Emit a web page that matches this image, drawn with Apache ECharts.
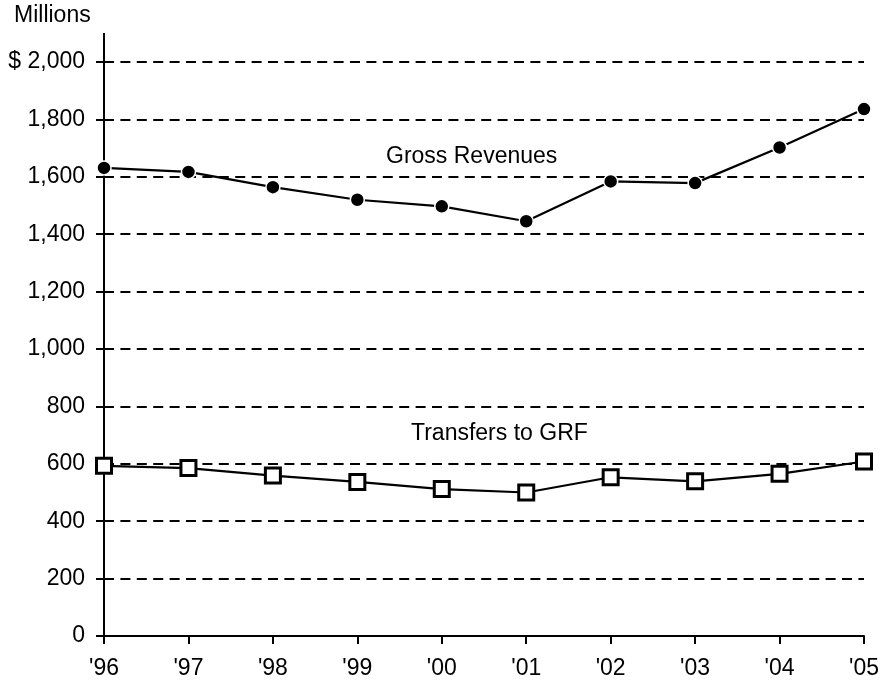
<!DOCTYPE html>
<html>
<head>
<meta charset="utf-8">
<script src="https://cdn.jsdelivr.net/npm/echarts@6/dist/echarts.min.js"></script>
<style>
  html, body { margin: 0; padding: 0; background: #fff; }
  #chart { width: 890px; height: 686px; }
</style>
</head>
<body>
<div id="chart"></div>
<script>
// Fiscal years shown along the bottom
const years = ["'96", "'97", "'98", "'99", "'00", "'01", "'02", "'03", "'04", "'05"];
// Gross revenues, $ millions
const grossRevenues = [1631, 1617, 1564, 1520, 1497, 1445, 1584, 1578, 1702, 1836];
// Transfers to the General Revenue Fund, $ millions
const transfersToGRF = [593, 585, 559, 537, 512, 500, 553, 539, 565, 608];
// Value axis ticks
const yTicks = [0, 200, 400, 600, 800, 1000, 1200, 1400, 1600, 1800, 2000];

const FONT = 'Liberation Sans, Arial, Helvetica, sans-serif';
const FS = 23;
const chart = echarts.init(document.getElementById('chart'));

const fmt = v => {
  const s = v.toLocaleString('en-US');
  return v === yTicks[yTicks.length - 1] ? '$ ' + s : s;
};

chart.setOption({
  animation: false,
  backgroundColor: '#fff',
  grid: { left: 104, right: 26, top: 62, bottom: 50, containLabel: false },
  xAxis: {
    type: 'category',
    data: years,
    boundaryGap: false,
    axisLine: { lineStyle: { color: '#000', width: 2 } },
    axisTick: { show: true, length: 8, alignWithLabel: true, lineStyle: { color: '#000', width: 2 } },
    axisLabel: { color: '#000', fontFamily: FONT, fontSize: FS, margin: 21 },
    splitLine: { show: false }
  },
  yAxis: {
    type: 'value',
    min: yTicks[0],
    max: yTicks[yTicks.length - 1],
    interval: 200,
    axisLine: { show: true, lineStyle: { color: '#000', width: 2 } },
    axisTick: { show: true, length: 8, lineStyle: { color: '#000', width: 2 } },
    axisLabel: { color: '#000', fontFamily: FONT, fontSize: FS, margin: 19, formatter: fmt },
    splitLine: { show: true, lineStyle: { color: '#000', width: 2, type: [10, 6.4] } }
  },
  series: [
    {
      name: 'Gross Revenues',
      type: 'line',
      data: grossRevenues,
      symbol: 'circle',
      symbolSize: 14,
      lineStyle: { color: '#000', width: 2.2 },
      itemStyle: { color: '#000', borderColor: '#fff', borderWidth: 1.5 },
      z: 3
    },
    {
      name: 'Transfers to GRF',
      type: 'line',
      data: transfersToGRF,
      symbol: 'rect',
      symbolSize: 15,
      lineStyle: { color: '#000', width: 2.2 },
      itemStyle: { color: '#fff', borderColor: '#000', borderWidth: 3 },
      z: 3
    }
  ]
});

// Axis extension above the top tick, unit caption and series captions
const axisTopY = chart.convertToPixel({ yAxisIndex: 0 }, yTicks[yTicks.length - 1]);
const axisX = chart.convertToPixel({ xAxisIndex: 0 }, 0);
const caption = (x, y, text) => ({
  type: 'text', x: x, y: y,
  style: { text: text, font: FS + 'px ' + FONT, fill: '#000', textVerticalAlign: 'middle' }
});
chart.setOption({
  graphic: [
    { type: 'line', shape: { x1: axisX, y1: axisTopY, x2: axisX, y2: axisTopY - 29 }, style: { stroke: '#000', lineWidth: 2 } },
    caption(14, 16, 'Millions'),
    caption(386, 157, 'Gross Revenues'),
    caption(411, 434, 'Transfers to GRF')
  ]
});
</script>
</body>
</html>
